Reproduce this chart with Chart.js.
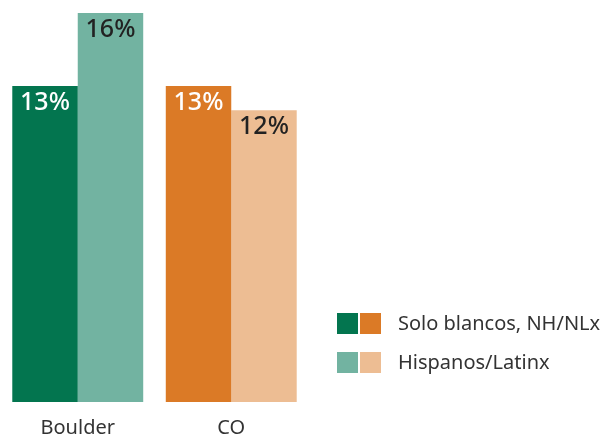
<!DOCTYPE html>
<html>
<head>
<meta charset="utf-8">
<script src="https://cdn.jsdelivr.net/npm/chart.js@4"></script>
<style>
  html,body{margin:0;padding:0;background:#fff;}
  #wrap{width:608px;height:437px;position:relative;}
</style>
</head>
<body>
<div id="wrap"><canvas id="mychart" width="608" height="437"></canvas></div>
<script>
const categories=['Boulder','CO'];
const seriesNames=['Solo blancos, NH/NLx','Hispanos/Latinx'];
const whiteValues=[13,13];
const hispValues=[16,12];
const whiteColors=['#03754f','#db7a26'];
const hispColors=['#72b3a1','#edbd93'];
const labelColors=[['#ffffff','#ffffff'],['#222222','#222222']];

const FONT='"Noto Sans", "Open Sans", sans-serif';

// value labels inside top of each bar
const barLabels={
  id:'barLabels',
  afterDatasetsDraw(chart){
    const c=chart.ctx;
    c.save();
    c.font='500 25px '+FONT;
    c.textAlign='center';
    c.textBaseline='middle';
    chart.data.datasets.forEach((ds,i)=>{
      chart.getDatasetMeta(i).data.forEach((bar,j)=>{
        c.fillStyle=labelColors[i][j];
        c.fillText(ds.data[j]+'%',bar.x,bar.y+17);
      });
    });
    c.restore();
  }
};

// legend with two swatches per row
const pairLegend={
  id:'pairLegend',
  afterDraw(chart){
    const c=chart.ctx;
    const rows=[whiteColors,hispColors];
    c.save();
    c.font='400 20px '+FONT;
    c.textBaseline='middle';
    rows.forEach((cols,i)=>{
      const y=313+i*39;
      c.fillStyle=cols[0];
      c.fillRect(337,y,21,21);
      c.fillStyle=cols[1];
      c.fillRect(360,y,21,21);
      c.fillStyle='#333333';
      c.fillText(seriesNames[i],398,y+11);
    });
    c.restore();
  }
};

const ctx=document.getElementById('mychart').getContext('2d');
let mychart=new Chart(ctx,{
  type:'bar',
  data:{
    labels:categories,
    datasets:[
      {label:seriesNames[0],data:whiteValues,backgroundColor:whiteColors,borderWidth:0},
      {label:seriesNames[1],data:hispValues,backgroundColor:hispColors,borderWidth:0}
    ]
  },
  options:{
    responsive:false,
    animation:false,
    layout:{padding:{left:1,right:300,top:13,bottom:0}},
    barPercentage:1,
    categoryPercentage:0.853,
    plugins:{legend:{display:false},tooltip:{enabled:false}},
    scales:{
      x:{
        grid:{display:false},
        border:{display:false},
        ticks:{color:'#333333',font:{family:FONT,size:20},padding:6},
        afterFit(scale){scale.height=35;}
      },
      y:{display:false,min:0,max:16}
    }
  },
  plugins:[barLabels,pairLegend]
});
</script>
</body>
</html>
